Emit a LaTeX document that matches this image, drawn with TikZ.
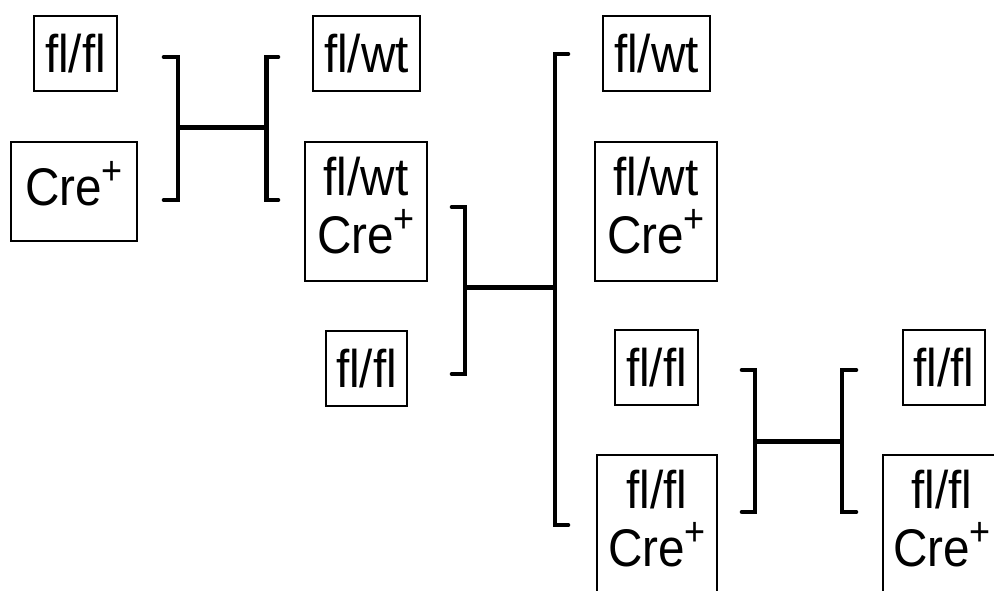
\documentclass[tikz,border=0pt]{standalone}
\usepackage{fontspec}
\setmainfont{Liberation Sans}[FakeStretch=0.9]
\newcommand\supplus{\raisebox{21pt}{\fontsize{40}{40}\selectfont +}}
\begin{document}
\begin{tikzpicture}[x=1pt,y=-1pt,
  gbox/.style={draw=black, line width=2.6pt, inner sep=0pt, minimum width=#1},
  lbl/.style={font=\fontsize{53}{58}\selectfont, inner sep=0pt},
  brk/.style={line width=4.6pt, line cap=round, line join=miter}]
\useasboundingbox (0,0) rectangle (994,590);
\begin{scope}
\clip (0,0) rectangle (994,590);
% boxes
\node[gbox=83pt, minimum height=75pt] (a1) at (75.5,53.5) {};
\node[lbl] at (a1.center) {fl/fl};
\node[gbox=126pt, minimum height=99pt] (a2) at (74,191.5) {};
\node[lbl, anchor=base] at (74,205) {Cre\supplus};

\node[gbox=107pt, minimum height=75pt] (b1) at (366.5,53.5) {};
\node[lbl] at (b1.center) {fl/wt};
\node[gbox=122pt, minimum height=139pt] (b2) at (366,211.5) {};
\node[lbl, anchor=base] at (366,195) {fl/wt};
\node[lbl, anchor=base] at (366,253) {Cre\supplus};
\node[gbox=81pt, minimum height=75pt] (b3) at (366.5,368.5) {};
\node[lbl] at (b3.center) {fl/fl};

\node[gbox=107pt, minimum height=75pt] (c1) at (656.5,53.5) {};
\node[lbl] at (c1.center) {fl/wt};
\node[gbox=122pt, minimum height=139pt] (c2) at (656,211.5) {};
\node[lbl, anchor=base] at (656,195) {fl/wt};
\node[lbl, anchor=base] at (656,253) {Cre\supplus};
\node[gbox=83pt, minimum height=75pt] (c3) at (656.5,367.5) {};
\node[lbl] at (c3.center) {fl/fl};
\node[gbox=120pt, minimum height=139pt] (c4) at (657,524.5) {};
\node[lbl, anchor=base] at (657,508) {fl/fl};
\node[lbl, anchor=base] at (657,566) {Cre\supplus};

\node[gbox=82pt, minimum height=75pt] (d1) at (944,367.5) {};
\node[lbl] at (d1.center) {fl/fl};
\node[gbox=120pt, minimum height=139pt] (d2) at (943,524.5) {};
\node[lbl, anchor=base] at (942,508) {fl/fl};
\node[lbl, anchor=base] at (942,566) {Cre\supplus};
\end{scope}

% bracket 1
\coordinate (k1a) at (178,127.5);
\coordinate (k1b) at (266.5,127.5);
\draw[brk] (164,57) -- (178,57) -- (178,200) -- (164,200);
\draw[brk] (278,57) -- (266.5,57) -- (266.5,200) -- (278,200);
\draw[brk, line cap=butt] (k1a) -- (k1b);

% bracket 2
\coordinate (k2a) at (465,287.5);
\coordinate (k2b) at (555,287.5);
\draw[brk] (452,207) -- (465,207) -- (465,374) -- (452,374);
\draw[brk] (568,54) -- (555,54) -- (555,525) -- (568,525);
\draw[brk, line cap=butt] (k2a) -- (k2b);

% bracket 3
\coordinate (k3a) at (755,441.5);
\coordinate (k3b) at (842,441.5);
\draw[brk] (742,370) -- (755,370) -- (755,512) -- (742,512);
\draw[brk] (856,370) -- (842,370) -- (842,512) -- (856,512);
\draw[brk, line cap=butt] (k3a) -- (k3b);
\end{tikzpicture}
\end{document}
